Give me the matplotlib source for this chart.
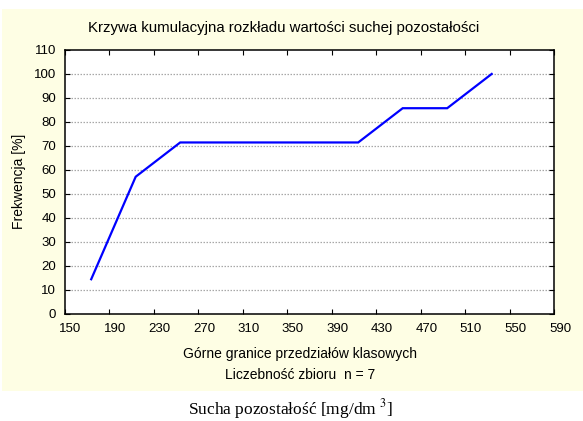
import matplotlib
matplotlib.use("Agg")
import matplotlib.pyplot as plt
from matplotlib.patches import Rectangle
from matplotlib.transforms import ScaledTranslation

# Data
class_upper_bounds = [174, 214, 254, 294, 334, 374, 414, 454, 494, 534]
cumulative_freq = [14.3, 57.1, 71.4, 71.4, 71.4, 71.4, 71.4, 85.7, 85.7, 100.0]
x_ticks = [150, 190, 230, 270, 310, 350, 390, 430, 470, 510, 550, 590]
y_ticks = [0, 10, 20, 30, 40, 50, 60, 70, 80, 90, 100, 110]

title = "Krzywa kumulacyjna rozkładu wartości suchej pozostałości"
xlabel = "Górne granice przedziałów klasowych"
ylabel = "Frekwencja [%]"
note = "Liczebność zbioru  n = 7"
caption = "Sucha pozostałość [mg/dm $^3$]"

plt.rcParams['font.family'] = ['Liberation Sans', 'DejaVu Sans']

W, H = 583, 421
fig = plt.figure(figsize=(W / 100, H / 100), dpi=100)
fig.patch.set_facecolor('white')

# yellow panel (behind the axes)
panel = Rectangle((2 / W, 1 - 391 / H), 1 - 2 / W, (391 - 8.5) / H,
                  transform=fig.transFigure, facecolor='#fefee4',
                  edgecolor='none', zorder=-10)
fig.add_artist(panel)

left, right, top, bottom = 64.5, 554, 50, 313.5
ax = fig.add_axes([left / W, 1 - bottom / H, (right - left) / W, (bottom - top) / H])
ax.set_zorder(1)
ax.set_facecolor('white')

ax.plot(class_upper_bounds, cumulative_freq, color='#0000ff', lw=1.6, zorder=3,
        solid_joinstyle='miter')

ax.set_xlim(x_ticks[0], x_ticks[-1])
ax.set_ylim(y_ticks[0], y_ticks[-1])
ax.set_xticks(x_ticks)
ax.set_yticks(y_ticks)

for yv in y_ticks[1:-1]:
    ax.axhline(yv, color='#a8a8a8', lw=0.9, ls=(0, (1.2, 1.2)), zorder=1)

ax.tick_params(direction='in', top=True, right=True, length=3.5, width=0.8,
               labelsize=9.5, colors='black')
ax.tick_params(axis='x', pad=7)
ax.tick_params(axis='y', pad=6)
for s in ax.spines.values():
    s.set_linewidth(1.1)
    s.set_color('black')

off = ScaledTranslation(6 / 100, 0, fig.dpi_scale_trans)
for lab in ax.get_xticklabels():
    lab.set_transform(lab.get_transform() + off)

fig.text(19 / W, 1 - (top + bottom) / 2 / H, ylabel, rotation=90, fontsize=10,
         ha='center', va='center')
fig.text(284 / W, 1 - 32 / H, title, fontsize=10.8, ha='center', va='baseline')
fig.text(300 / W, 1 - 358 / H, xlabel, fontsize=10, ha='center', va='baseline')
fig.text(300 / W, 1 - 379 / H, note, fontsize=10, ha='center', va='baseline')
fig.text(291 / W, 1 - 414 / H, caption, fontsize=12.5, ha='center', va='baseline',
         family='Liberation Serif', math_fontfamily='stix')

fig.savefig('out.png', dpi=100, facecolor='white')
